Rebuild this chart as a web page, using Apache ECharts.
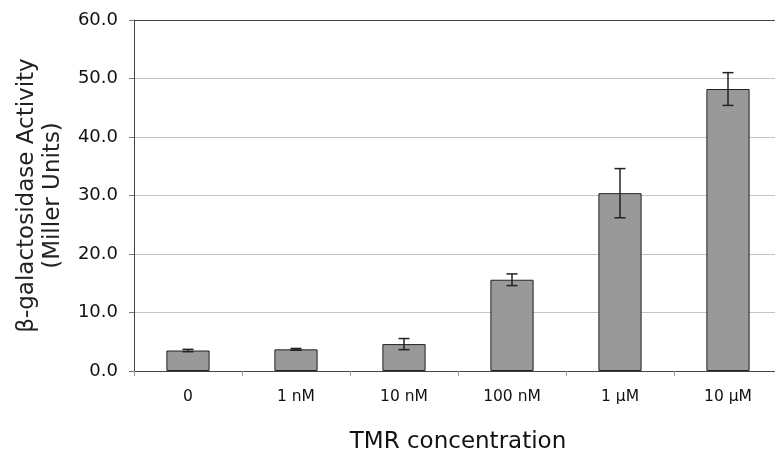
<!DOCTYPE html>
<html>
<head>
<meta charset="utf-8">
<script src="https://cdn.jsdelivr.net/npm/echarts@6/dist/echarts.min.js"></script>
<style>
html,body{margin:0;padding:0;background:#fff;}
#chart{width:775px;height:450px;}
</style>
</head>
<body>
<div id="chart"></div>
<script>
var categories = ['0', '1 nM', '10 nM', '100 nM', '1 \u03bcM', '10 \u03bcM'];
var values = [3.5, 3.7, 4.6, 15.6, 30.4, 48.2];
var errors = [0.2, 0.15, 0.95, 1.0, 4.2, 2.8];
var yTicks = [0, 10, 20, 30, 40, 50, 60];

var FONT = 'DejaVu Sans';
var chart = echarts.init(document.getElementById('chart'));
var errData = values.map(function (v, i) { return [i, v - errors[i], v + errors[i]]; });
var yMax = yTicks[yTicks.length - 1];

chart.setOption({
  animation: false,
  backgroundColor: '#fff',
  grid: { left: 134, top: 20, width: 648, bottom: 79, show: false,
          outerBoundsMode: 'none', containLabel: false },
  xAxis: {
    type: 'category',
    data: categories,
    name: 'TMR concentration',
    nameLocation: 'middle',
    nameGap: 60,
    nameTextStyle: { fontFamily: FONT, fontSize: 23, color: '#111' },
    axisLine: { show: true, lineStyle: { color: '#444', width: 1 } },
    axisTick: { show: true, length: 5, lineStyle: { color: '#999' } },
    axisLabel: { fontFamily: FONT, fontSize: 15.5, color: '#111', margin: 18 }
  },
  yAxis: {
    type: 'value',
    min: yTicks[0],
    max: yMax,
    interval: 10,
    name: '\u03b2-galactosidase Activity\n(Miller Units)',
    nameLocation: 'middle',
    nameGap: 68,
    nameTextStyle: { fontFamily: FONT, fontSize: 23, color: '#222', lineHeight: 26 },
    axisLine: { show: true, lineStyle: { color: '#444', width: 1 } },
    axisTick: { show: true, length: 5, lineStyle: { color: '#777' } },
    axisLabel: { fontFamily: FONT, fontSize: 18, color: '#111', margin: 16,
      formatter: function (v) { return v.toFixed(1); } },
    splitLine: { show: true, lineStyle: { color: '#c4c4c4', width: 1 } }
  },
  series: [
    {
      type: 'bar',
      data: values,
      barWidth: '40%',
      itemStyle: { color: '#999999', borderColor: '#222', borderWidth: 1 },
      markLine: {
        silent: true,
        symbol: 'none',
        label: { show: false },
        lineStyle: { color: '#444', width: 1, type: 'solid' },
        data: [{ yAxis: yMax }]
      }
    },
    {
      type: 'custom',
      data: errData,
      z: 10,
      renderItem: function (params, api) {
        var x = api.value(0);
        var lo = api.coord([x, api.value(1)]);
        var hi = api.coord([x, api.value(2)]);
        var hw = 5.5;
        var st = { stroke: '#222', lineWidth: 1.5 };
        return {
          type: 'group',
          children: [
            { type: 'line', shape: { x1: lo[0], y1: lo[1], x2: hi[0], y2: hi[1] }, style: st },
            { type: 'line', shape: { x1: lo[0] - hw, y1: lo[1], x2: lo[0] + hw, y2: lo[1] }, style: st },
            { type: 'line', shape: { x1: hi[0] - hw, y1: hi[1], x2: hi[0] + hw, y2: hi[1] }, style: st }
          ]
        };
      }
    }
  ]
});
</script>
</body>
</html>
